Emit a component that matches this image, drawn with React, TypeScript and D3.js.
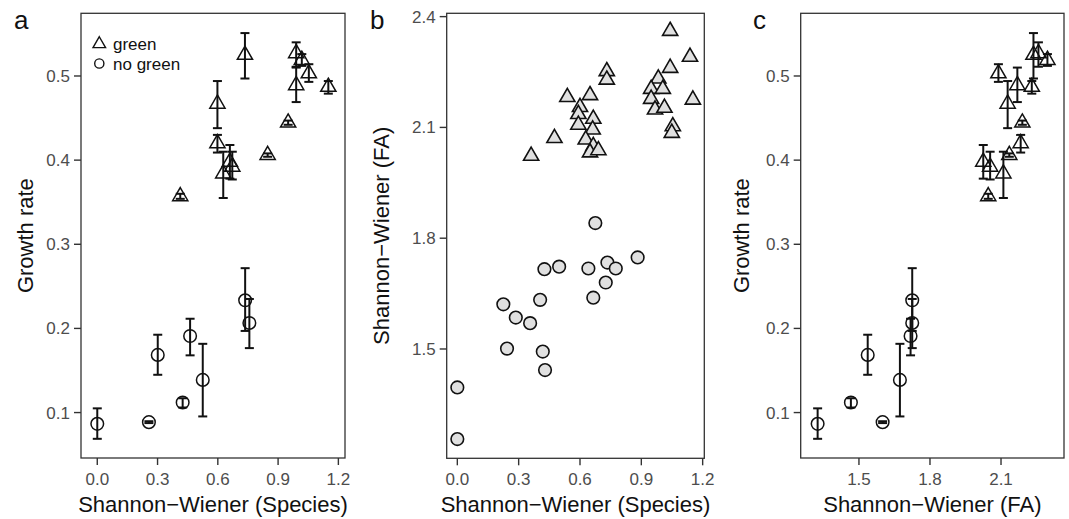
import React from 'react';
import * as d3 from 'd3';

// green cultures: growth rate with error range, species diversity, FA diversity
const greenRate = [0.357, 0.467, 0.420, 0.384, 0.398, 0.392, 0.525, 0.406, 0.4445, 0.527, 0.489, 0.519, 0.503, 0.487];
const greenLo = [0.354, 0.438, 0.409, 0.355, 0.378, 0.377, 0.497, 0.404, 0.442, 0.511, 0.469, 0.512, 0.493, 0.479];
const greenHi = [0.360, 0.494, 0.430, 0.410, 0.418, 0.410, 0.551, 0.408, 0.447, 0.540, 0.510, 0.526, 0.514, 0.494];
const greenSpecies = [0.413, 0.598, 0.598, 0.627, 0.66, 0.672, 0.735, 0.848, 0.95, 0.99, 0.99, 1.018, 1.053, 1.15];
const greenFA = [2.046, 2.128, 2.183, 2.11, 2.025, 2.054, 2.237, 2.135, 2.19, 2.258, 2.169, 2.296, 2.089, 2.23];

// no green cultures
const noGreenRate = [0.0866, 0.0886, 0.1685, 0.1119, 0.191, 0.1388, 0.2334, 0.2065];
const noGreenLo = [0.0688, 0.0875, 0.1449, 0.106, 0.168, 0.0954, 0.197, 0.1766];
const noGreenHi = [0.105, 0.0897, 0.1925, 0.117, 0.2115, 0.1817, 0.2716, 0.235];
const noGreenSpecies = [0.0, 0.257, 0.301, 0.425, 0.462, 0.525, 0.736, 0.757];
const noGreenFA = [1.3255, 1.6, 1.537, 1.466, 1.718, 1.673, 1.725, 1.725];

// panel b: species vs FA diversity per sample
const bTriSpecies = [0.361, 0.475, 0.538, 0.649, 0.600, 0.592, 0.592, 0.665, 0.662, 0.628, 0.665, 0.649, 0.690, 0.731, 0.731, 1.041, 1.138, 1.041, 0.983, 0.948, 1.005, 0.948, 0.967, 1.013, 1.152, 1.054, 1.049];
const bTriFA = [2.023, 2.071, 2.182, 2.187, 2.155, 2.136, 2.107, 2.123, 2.094, 2.067, 2.049, 2.032, 2.038, 2.252, 2.229, 2.361, 2.291, 2.261, 2.232, 2.204, 2.204, 2.177, 2.148, 2.153, 2.175, 2.103, 2.085];
const bCircSpecies = [0.0, 0.0, 0.225, 0.243, 0.286, 0.356, 0.405, 0.418, 0.429, 0.426, 0.498, 0.641, 0.665, 0.726, 0.734, 0.775, 0.882, 0.675];
const bCircFA = [1.396, 1.256, 1.621, 1.501, 1.585, 1.570, 1.633, 1.493, 1.443, 1.716, 1.723, 1.718, 1.639, 1.680, 1.734, 1.718, 1.748, 1.841];

const speciesTicks = [0.0, 0.3, 0.6, 0.9, 1.2];
const faTicksB = [1.5, 1.8, 2.1, 2.4];
const faTicksC = [1.5, 1.8, 2.1];
const rateTicks = [0.1, 0.2, 0.3, 0.4, 0.5];

const FONT = '"Liberation Sans", Arial, sans-serif';
const triPath = d3.symbol(d3.symbolTriangle, 100)();
const triSmall = d3.symbol(d3.symbolTriangle, 68)();

const Frame = ({ x, y, xTicks, yTicks, xTitle, yTitle, letter, letterX, yTitleX }) => {
  const [x0, x1] = x.range();
  const [y0, y1] = y.range();
  return (
    <g>
      <rect x={x0} y={y1} width={x1 - x0} height={y0 - y1} fill="white" stroke="#333" strokeWidth={1.3} />
      {xTicks.map(t => (
        <g key={'x' + t}>
          <line x1={x(t)} x2={x(t)} y1={y0} y2={y0 + 7} stroke="#333" strokeWidth={1.4} />
          <text x={x(t)} y={y0 + 27} textAnchor="middle" fontSize={17} fill="#4d4d4d">{t.toFixed(1)}</text>
        </g>
      ))}
      {yTicks.map(t => (
        <g key={'y' + t}>
          <line x1={x0 - 7} x2={x0} y1={y(t)} y2={y(t)} stroke="#333" strokeWidth={1.4} />
          <text x={x0 - 11} y={y(t) + 6} textAnchor="end" fontSize={17} fill="#4d4d4d">{t.toFixed(1)}</text>
        </g>
      ))}
      <text x={(x0 + x1) / 2} y={512} textAnchor="middle" fontSize={22} fill="#111">{xTitle}</text>
      <text transform={`translate(${yTitleX},${(y0 + y1) / 2}) rotate(-90)`} textAnchor="middle" fontSize={22} fill="#111">{yTitle}</text>
      <text x={letterX} y={28.5} fontSize={26} fill="#111">{letter}</text>
    </g>
  );
};

const ErrorPoints = ({ x, y, xs, rate, lo, hi, shape }) => (
  <g>
    {xs.map((v, i) => {
      const cx = x(v);
      return (
        <g key={i}>
          <line x1={cx} x2={cx} y1={y(lo[i])} y2={y(hi[i])} stroke="#111" strokeWidth={2} />
          <line x1={cx - 4.5} x2={cx + 4.5} y1={y(lo[i])} y2={y(lo[i])} stroke="#111" strokeWidth={2} />
          <line x1={cx - 4.5} x2={cx + 4.5} y1={y(hi[i])} y2={y(hi[i])} stroke="#111" strokeWidth={2} />
          {shape === 'tri'
            ? <path d={triPath} transform={`translate(${cx},${y(rate[i])})`} fill="none" stroke="#111" strokeWidth={1.5} />
            : <circle cx={cx} cy={y(rate[i])} r={6.3} fill="none" stroke="#111" strokeWidth={1.5} />}
        </g>
      );
    })}
  </g>
);

export default function App() {
  const rateY = d3.scaleLinear().domain([0.046, 0.5745]).range([458, 13.3]);
  const xa = d3.scaleLinear().domain([-0.081, 1.233]).range([81, 345]);
  const xb = d3.scaleLinear().domain([-0.052, 1.208]).range([446.7, 704.3]);
  const yb = d3.scaleLinear().domain([1.204, 2.409]).range([458.3, 13.3]);
  const xc = d3.scaleLinear().domain([1.254, 2.366]).range([800.7, 1064]);

  return (
    <svg width={1069} height={519} style={{ position: 'absolute', left: 0, top: 0, background: 'white' }} fontFamily={FONT}>
      {/* panel a */}
      <Frame x={xa} y={rateY} xTicks={speciesTicks} yTicks={rateTicks} xTitle="Shannon−Wiener (Species)" yTitle="Growth rate" letter="a" letterX={14} yTitleX={33} />
      <ErrorPoints x={xa} y={rateY} xs={greenSpecies} rate={greenRate} lo={greenLo} hi={greenHi} shape="tri" />
      <ErrorPoints x={xa} y={rateY} xs={noGreenSpecies} rate={noGreenRate} lo={noGreenLo} hi={noGreenHi} shape="circ" />
      <path d={triSmall} transform="translate(99.3,44)" fill="none" stroke="#111" strokeWidth={1.4} />
      <text x={113} y={50.3} fontSize={17} fill="#111">green</text>
      <circle cx={99.3} cy={63.5} r={4.6} fill="none" stroke="#111" strokeWidth={1.4} />
      <text x={113} y={69.5} fontSize={17} fill="#111">no green</text>

      {/* panel b */}
      <Frame x={xb} y={yb} xTicks={speciesTicks} yTicks={faTicksB} xTitle="Shannon−Wiener (Species)" yTitle="Shannon−Wiener (FA)" letter="b" letterX={370} yTitleX={389} />
      {bCircSpecies.map((v, i) => (
        <circle key={'bc' + i} cx={xb(v)} cy={yb(bCircFA[i])} r={6.3} fill="#e0e0e0" stroke="#111" strokeWidth={1.6} />
      ))}
      {bTriSpecies.map((v, i) => (
        <path key={'bt' + i} d={triPath} transform={`translate(${xb(v)},${yb(bTriFA[i])})`} fill="#e0e0e0" stroke="#111" strokeWidth={1.6} />
      ))}

      {/* panel c */}
      <Frame x={xc} y={rateY} xTicks={faTicksC} yTicks={rateTicks} xTitle="Shannon−Wiener (FA)" yTitle="Growth rate" letter="c" letterX={753} yTitleX={749} />
      <ErrorPoints x={xc} y={rateY} xs={greenFA} rate={greenRate} lo={greenLo} hi={greenHi} shape="tri" />
      <ErrorPoints x={xc} y={rateY} xs={noGreenFA} rate={noGreenRate} lo={noGreenLo} hi={noGreenHi} shape="circ" />
    </svg>
  );
}
